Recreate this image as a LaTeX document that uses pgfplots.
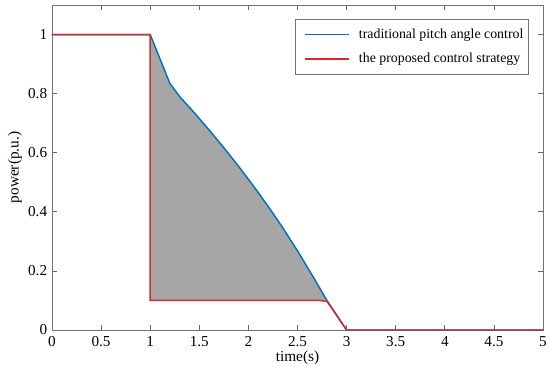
\documentclass[border=0pt]{standalone}
\usepackage{fontspec}
\setmainfont{Liberation Serif}
\usepackage{pgfplots}
\pgfplotsset{compat=1.18}
\definecolor{mblue}{RGB}{0,114,189}
\definecolor{mred}{RGB}{217,40,40}
\definecolor{fillg}{RGB}{166,166,166}
\begin{document}
\fontsize{10.4}{12}\selectfont
\begin{tikzpicture}
\begin{axis}[
  name=ax,
  scale only axis,
  width=368.25pt, height=243.75pt,
  xmin=0, xmax=5, ymin=0, ymax=1.1,
  xtick={0,0.5,...,5},
  ytick={0,0.2,0.4,0.6,0.8,1},
  xticklabels={0,0.5,1,1.5,2,2.5,3,3.5,4,4.5,5},
  yticklabels={0,0.2,0.4,0.6,0.8,1},
  xtick pos=both, ytick pos=both,
  /pgf/number format/assume math mode=true,
  tick align=inside,
  major tick length=4pt,
  axis line style={draw=black!55},
  every tick/.style={black!60, line width=0.5pt},
  tick label style={font=\fontsize{11.4}{13}\selectfont},
  xticklabel style={yshift=-1pt},
  label style={font=\fontsize{11.5}{13}\selectfont},
  xlabel={time(s)},
  ylabel={power(p.u.)},
  xlabel style={at={(axis description cs:0.5,-0.086)}, anchor=center},
  ylabel style={at={(axis description cs:-0.0754,0.5)}, anchor=center},
  legend style={at={(0.9715,0.957)}, anchor=north east, draw=black!55,
    font=\fontsize{10.4}{12}\selectfont, row sep=5.6pt, inner xsep=2pt, inner ysep=5pt},
  legend cell align=left,
  legend image code/.code={\path (0pt,0pt); \draw[#1] (5.25pt,0pt) -- (38.25pt,0pt); \path (43pt,0pt);},
]
\addplot[fill=fillg, draw=none, forget plot] coordinates {
(1,1) (1.2,0.835) (1.3,0.79) (1.45,0.735) (1.6,0.677) (1.75,0.617) (1.9,0.554)
(2.05,0.488) (2.2,0.419) (2.35,0.346) (2.5,0.268) (2.65,0.185) (2.8,0.1) (1,0.1)} -- cycle;
\addplot[mblue, line width=1.1pt] coordinates {
(0,1) (1,1) (1.2,0.835) (1.3,0.79) (1.45,0.735) (1.6,0.677) (1.75,0.617) (1.9,0.554)
(2.05,0.488) (2.2,0.419) (2.35,0.346) (2.5,0.268) (2.65,0.185) (2.8,0.1) (3,0) (5,0)};
\addlegendentry{traditional pitch angle control}
\addplot[mred, line width=1.1pt] coordinates {
(0,1) (1,1) (1,0.1) (2.72,0.1) (2.8,0.097) (3,0) (5,0)};
\addlegendentry{the proposed control strategy}
\end{axis}
\pgfresetboundingbox
\path ([shift={(-39pt,-33.75pt)}]ax.south west) rectangle ([shift={(5.25pt,3.75pt)}]ax.north east);
\end{tikzpicture}
\end{document}
